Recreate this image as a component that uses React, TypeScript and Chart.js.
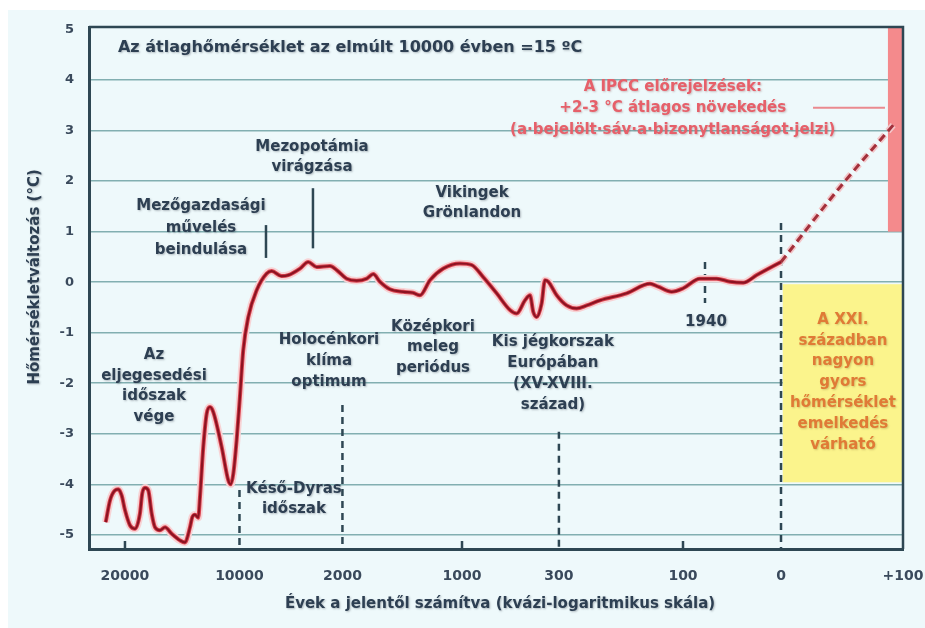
import { useEffect, useRef } from 'react';
import { Chart, registerables } from 'chart.js';

Chart.register(...registerables);

// ---- axis definition (quasi-logarithmic x axis, positions in axis units) ----
const xTickLabels = ['20000', '10000', '2000', '1000', '300', '100', '0', '+100'];
const xTickPos = [0, 1.041, 1.977, 3.064, 3.945, 5.073, 5.964, 7.073];
const yTicks = [-5, -4, -3, -2, -1, 0, 1, 2, 3, 4, 5];
const xMin = -0.327;
const xMax = 7.073;
const yMin = -5.28;
const yMax = 5.05;

// ---- reconstructed temperature anomaly (°C) ----
const pastX = [-0.175, -0.136, -0.091, -0.061, -0.030, 0.0, 0.045, 0.091, 0.136, 0.157,
  0.182, 0.212, 0.243, 0.273, 0.318, 0.364, 0.425, 0.5, 0.545, 0.591,
  0.612, 0.636, 0.666, 0.682, 0.712, 0.743, 0.773, 0.803, 0.879, 0.939,
  0.961, 0.985, 1.015, 1.045, 1.075, 1.121, 1.197, 1.288, 1.334, 1.424,
  1.485, 1.591, 1.666, 1.743, 1.864, 1.925, 2.015, 2.106, 2.197, 2.257,
  2.318, 2.409, 2.530, 2.618, 2.682, 2.773, 2.894, 3.045, 3.152, 3.257,
  3.379, 3.5, 3.561, 3.636, 3.682, 3.712, 3.743, 3.788, 3.818, 3.848,
  3.925, 4.015, 4.106, 4.197, 4.318, 4.561, 4.773, 4.848, 4.970, 5.075,
  5.227, 5.379, 5.5, 5.621, 5.743, 5.964];
const pastY = [-4.75, -4.32, -4.12, -4.10, -4.22, -4.51, -4.81, -4.88, -4.58, -4.18,
  -4.07, -4.12, -4.58, -4.85, -4.91, -4.85, -4.98, -5.11, -5.15, -4.85,
  -4.65, -4.60, -4.66, -4.25, -3.26, -2.60, -2.47, -2.57, -3.26, -3.92,
  -4.00, -3.79, -3.13, -2.27, -1.35, -0.69, -0.16, 0.17, 0.22, 0.12,
  0.14, 0.27, 0.40, 0.30, 0.32, 0.24, 0.07, 0.03, 0.07, 0.16,
  0.01, -0.14, -0.19, -0.21, -0.26, 0.04, 0.27, 0.37, 0.34, 0.10,
  -0.22, -0.55, -0.62, -0.36, -0.26, -0.59, -0.69, -0.42, 0.04, 0.01,
  -0.26, -0.46, -0.52, -0.46, -0.36, -0.22, -0.03, -0.09, -0.19, -0.12,
  0.07, 0.07, 0.01, -0.01, 0.14, 0.40];

// ---- IPCC projection ----
const projX = [5.964, 6.5, 7.0];
const projY = [0.40, 1.88, 3.15];

// ---- uncertainty band and 21st-century box ----
const bandX = [6.936, 7.073];
const bandY = [1.0, 5.05];
const boxX = [5.98, 7.073];
const boxY = [-0.04, -3.96];

// ---- vertical markers ----
const dashedX = [1.041, 1.977, 3.945, 5.964, 5.273];
const dashedTop = [-4.11, -2.43, -2.96, 1.17, 0.40];
const dashedBottom = [-5.28, -5.28, -5.28, -5.28, -0.41];
const solidX = [1.282, 1.709];
const solidTop = [1.13, 1.86];
const solidBottom = [0.48, 0.67];
const smallTickX = [0, 3.064, 5.073];

// ---- texts ----
const titleText = 'Az átlaghőmérséklet az elmúlt 10000 évben =15 ºC';
const yTitle = 'Hőmérsékletváltozás (°C)';
const xTitle = 'Évek a jelentől számítva (kvázi-logaritmikus skála)';
const noteLines = [
  ['Mezopotámia', 'virágzása'],
  ['Mezőgazdasági', 'művelés', 'beindulása'],
  ['Vikingek', 'Grönlandon'],
  ['Holocénkori', 'klíma', 'optimum'],
  ['Középkori', 'meleg', 'periódus'],
  ['Kis jégkorszak', 'Európában', '(XV-XVIII.', 'század)'],
  ['Az', 'eljegesedési', 'időszak', 'vége'],
  ['Késő-Dyras', 'időszak'],
  ['1940'],
];
const noteX = [1.70, 0.691, 3.155, 1.855, 2.8, 3.89, 0.264, 1.536, 5.282];
const noteY = [2.675, 1.51, 1.767, -1.142, -0.884, -1.18, -1.44, -4.09, -0.787];
const ipccLines = ['A IPCC előrejelzések:', '+2-3 °C átlagos növekedés', '(a·bejelölt·sáv·a·bizonytlanságot·jelzi)'];
const ipccX = 4.98;
const ipccY = 3.864;
const ipccLeaderX = [6.255, 6.909];
const ipccLeaderY = 3.45;
const boxLines = ['A XXI.', 'században', 'nagyon', 'gyors', 'hőmérséklet', 'emelkedés', 'várható'];
const boxTextX = 6.527;
const boxTextY = -0.746;

const FONT = '"DejaVu Sans", Verdana, sans-serif';
const DARK = '#2d3f52';
const AXIS = '#2e4753';

function drawLines(ctx: CanvasRenderingContext2D, lines: string[], x: number, y: number, gap: number,
  color: string, font: string, align: CanvasTextAlign = 'center', shadow = 'rgba(60,70,80,0.35)') {
  ctx.save();
  ctx.font = font;
  ctx.fillStyle = color;
  ctx.textAlign = align;
  ctx.textBaseline = 'middle';
  ctx.shadowColor = shadow;
  ctx.shadowBlur = 2;
  ctx.shadowOffsetX = 1;
  ctx.shadowOffsetY = 1;
  lines.forEach((l, i) => ctx.fillText(l, x, y + i * gap));
  ctx.restore();
}

const overlay = {
  id: 'overlay',
  beforeDraw(chart: any) {
    const ctx = chart.ctx;
    ctx.save();
    ctx.fillStyle = '#ffffff';
    ctx.fillRect(0, 0, chart.width, chart.height);
    ctx.fillStyle = '#eef9fb';
    ctx.fillRect(8, 10, chart.width - 8, chart.height - 10);
    ctx.restore();
  },
  beforeDatasetsDraw(chart: any) {
    const ctx: CanvasRenderingContext2D = chart.ctx;
    const xs = chart.scales.x;
    const ys = chart.scales.y;
    const X = (v: number) => xs.getPixelForValue(v);
    const Y = (v: number) => ys.getPixelForValue(v);
    ctx.save();
    // yellow box
    ctx.fillStyle = '#fbf48c';
    ctx.fillRect(X(boxX[0]), Y(boxY[0]), X(boxX[1]) - X(boxX[0]), Y(boxY[1]) - Y(boxY[0]));
    // red uncertainty band
    ctx.fillStyle = '#f48a8c';
    ctx.fillRect(X(bandX[0]), Y(bandY[1]), X(bandX[1]) - X(bandX[0]), Y(bandY[0]) - Y(bandY[1]));
    // IPCC leader line
    ctx.strokeStyle = '#ea8a8f';
    ctx.lineWidth = 2;
    ctx.beginPath();
    ctx.moveTo(X(ipccLeaderX[0]), Y(ipccLeaderY));
    ctx.lineTo(X(ipccLeaderX[1]), Y(ipccLeaderY));
    ctx.stroke();
    // dashed markers
    ctx.strokeStyle = AXIS;
    ctx.lineWidth = 2.5;
    ctx.setLineDash([7, 5]);
    dashedX.forEach((x, i) => {
      ctx.beginPath();
      ctx.moveTo(X(x), Y(dashedTop[i]));
      ctx.lineTo(X(x), Y(dashedBottom[i]));
      ctx.stroke();
    });
    ctx.setLineDash([]);
    // solid markers
    solidX.forEach((x, i) => {
      ctx.beginPath();
      ctx.moveTo(X(x), Y(solidTop[i]));
      ctx.lineTo(X(x), Y(solidBottom[i]));
      ctx.stroke();
    });
    // small ticks on the bottom axis
    smallTickX.forEach((x) => {
      ctx.beginPath();
      ctx.moveTo(X(x), chart.chartArea.bottom);
      ctx.lineTo(X(x), chart.chartArea.bottom - 8);
      ctx.stroke();
    });
    ctx.restore();
  },
  afterDatasetsDraw(chart: any) {
    const ctx: CanvasRenderingContext2D = chart.ctx;
    const xs = chart.scales.x;
    const ys = chart.scales.y;
    const X = (v: number) => xs.getPixelForValue(v);
    const Y = (v: number) => ys.getPixelForValue(v);
    const a = chart.chartArea;
    // top and right frame
    ctx.save();
    ctx.strokeStyle = AXIS;
    ctx.lineWidth = 2.5;
    ctx.beginPath();
    ctx.moveTo(a.left, a.top);
    ctx.lineTo(a.right, a.top);
    ctx.lineTo(a.right, a.bottom);
    ctx.stroke();
    ctx.restore();

    drawLines(ctx, [titleText], X(-0.064), Y(4.635), 0, DARK, `bold 16px ${FONT}`, 'left');
    const gaps = [20, 22, 20, 21, 20.5, 21, 20.7, 20, 0];
    noteLines.forEach((lines, i) => {
      drawLines(ctx, lines, X(noteX[i]), Y(noteY[i]), gaps[i], DARK, `bold 15px ${FONT}`);
    });
    drawLines(ctx, ipccLines, X(ipccX), Y(ipccY), 21.5, '#e6606a', `bold 15px ${FONT}`, 'center', 'rgba(120,60,60,0.3)');
    drawLines(ctx, boxLines, X(boxTextX), Y(boxTextY), 20.8, '#e07a36', `bold 15px ${FONT}`, 'center', 'rgba(120,90,40,0.3)');

    // axis titles
    ctx.save();
    ctx.translate(a.left - 54, Y(0.105));
    ctx.rotate(-Math.PI / 2);
    drawLines(ctx, [yTitle], 0, 0, 0, DARK, `bold 15px ${FONT}`);
    ctx.restore();
    drawLines(ctx, [xTitle], X(3.41), a.bottom + 55, 0, DARK, `bold 15px ${FONT}`);
  },
};

export default function App() {
  const ref = useRef<HTMLCanvasElement | null>(null);
  useEffect(() => {
    if (!ref.current) return;
    const past = pastX.map((x, i) => ({ x, y: pastY[i] }));
    const proj = projX.map((x, i) => ({ x, y: projY[i] }));
    const chart = new Chart(ref.current, {
      type: 'line',
      data: {
        datasets: [
          { data: past, borderColor: '#8c1322', borderWidth: 2.2, pointRadius: 0, cubicInterpolationMode: 'monotone', order: 0 },
          { data: past, borderColor: '#d9434f', borderWidth: 4, pointRadius: 0, cubicInterpolationMode: 'monotone', order: 1 },
          { data: past, borderColor: '#f7d3d5', borderWidth: 7.5, pointRadius: 0, cubicInterpolationMode: 'monotone', order: 2 },
          { data: proj, borderColor: '#a3303b', borderWidth: 3, borderDash: [8, 5], pointRadius: 0, cubicInterpolationMode: 'monotone', order: 0 },
          { data: proj, borderColor: '#f3c6c9', borderWidth: 6.5, borderDash: [8, 5], pointRadius: 0, cubicInterpolationMode: 'monotone', order: 3 },
        ],
      },
      options: {
        responsive: false,
        animation: false,
        devicePixelRatio: 1,
        layout: { padding: { top: 27, right: 22, left: 0, bottom: 0 } },
        plugins: { legend: { display: false }, tooltip: { enabled: false }, title: { display: false } },
        scales: {
          x: {
            type: 'linear',
            min: xMin,
            max: xMax,
            afterBuildTicks: (s: any) => { s.ticks = xTickPos.map((v) => ({ value: v })); },
            afterFit: (s: any) => { s.height = 79; s.paddingRight = 0; s.paddingLeft = 0; },
            ticks: {
              autoSkip: false,
              maxRotation: 0,
              padding: 11,
              color: '#3a4a5c',
              font: { family: FONT, weight: 'bold', size: 14 },
              callback: (_v: any, i: number) => xTickLabels[i],
            },
            grid: { display: false },
            border: { display: true, color: AXIS, width: 3 },
          },
          y: {
            type: 'linear',
            min: yMin,
            max: yMax,
            afterBuildTicks: (s: any) => { s.ticks = yTicks.map((v) => ({ value: v })); },
            afterFit: (s: any) => { s.width = 89; s.paddingTop = 0; s.paddingBottom = 0; },
            ticks: {
              padding: 15,
              color: '#3a4a5c',
              font: { family: FONT, weight: 'bold', size: 13 },
              callback: (v: any) => String(v),
            },
            grid: {
              drawTicks: false,
              lineWidth: 1.6,
              color: (c: any) => (c.tick && c.tick.value === 5 ? 'rgba(0,0,0,0)' : '#82afb1'),
            },
            border: { display: true, color: AXIS, width: 3 },
          },
        },
      } as any,
      plugins: [overlay],
    });
    return () => chart.destroy();
  }, []);
  return (
    <div style={{ position: 'fixed', left: 0, top: 0, width: 925, height: 628 }}>
      <canvas ref={ref} width={925} height={628} style={{ display: 'block' }} />
    </div>
  );
}
